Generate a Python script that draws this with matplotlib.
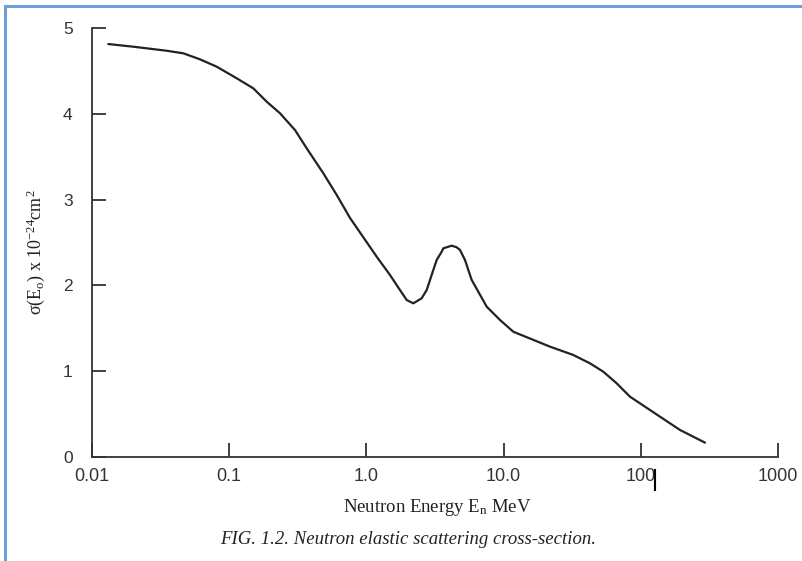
import matplotlib
matplotlib.use("Agg")
import matplotlib.pyplot as plt
from matplotlib.lines import Line2D

plt.rcParams['mathtext.fontset'] = 'custom'
plt.rcParams['mathtext.rm'] = 'Liberation Serif'
plt.rcParams['mathtext.it'] = 'Liberation Serif:italic'

# Data (energy in MeV, cross-section in 1e-24 cm^2)
energy = [0.01315, 0.0200, 0.0350, 0.0463, 0.0612, 0.0811, 0.1134, 0.1498,
          0.1877, 0.2346, 0.3016, 0.3671, 0.4852, 0.6075, 0.7596, 1.189,
          1.486, 1.757, 1.966, 2.197, 2.529, 2.751, 2.908, 3.073, 3.253,
          3.539, 3.635, 4.184, 4.551, 4.811, 5.232, 5.383, 5.531, 5.856,
          7.53, 9.415, 11.77, 21.79, 32.2, 42.6, 53.3, 66.7, 83.4, 138.0,
          193.1, 293.8]
sigma = [4.813, 4.782, 4.735, 4.705, 4.635, 4.549, 4.414, 4.297,
         4.141, 4.006, 3.811, 3.598, 3.307, 3.054, 2.786, 2.334,
         2.121, 1.946, 1.830, 1.791, 1.850, 1.946, 2.063, 2.179, 2.296,
         2.393, 2.432, 2.463, 2.444, 2.413, 2.296, 2.238, 2.179, 2.063,
         1.752, 1.597, 1.460, 1.286, 1.189, 1.092, 0.994, 0.859, 0.703, 0.470,
         0.315, 0.167]

xticks = [0.01, 0.1, 1.0, 10.0, 100, 1000]
xticklabels = ['0.01', '0.1', '1.0', '10.0', '100', '1000']
yticks = [0, 1, 2, 3, 4, 5]
yticklabels = ['0', '1', '2', '3', '4', '5']

fig = plt.figure(figsize=(8.03, 5.61), dpi=100)
ax = fig.add_axes([92/803, 1 - 457/561, (778 - 92)/803, (457 - 28)/561])

ax.plot(energy, sigma, color='#222222', lw=1.6, solid_capstyle='round',
        solid_joinstyle='round')

ax.set_xscale('log')
ax.set_xlim(0.01, 1000)
ax.set_ylim(0, 5)
ax.set_xticks(xticks)
ax.set_xticklabels(xticklabels)
ax.minorticks_off()
ax.set_yticks(yticks)
ax.set_yticklabels(yticklabels)

for s in ['top', 'right']:
    ax.spines[s].set_visible(False)
for s in ['left', 'bottom']:
    ax.spines[s].set_color('#333333')
    ax.spines[s].set_linewidth(1.3)

ax.tick_params(axis='x', direction='in', length=10, width=1.3, color='#333333',
               pad=8, labelsize=13, labelcolor='#333333')
ax.tick_params(axis='y', direction='in', length=10, width=1.3, color='#333333',
               pad=14, labelsize=12.5, labelcolor='#333333')
for lab in ax.get_xticklabels() + ax.get_yticklabels():
    lab.set_family('Liberation Sans')

fig.text(437/803, 1 - 507/561, 'Neutron Energy E$_{\\rm n}$ MeV',
         family='Liberation Serif', fontsize=13.5, ha='center', va='center',
         color='#222222')
fig.text(36/803, 1 - 252/561, '\u03c3(E$_{\\rm o}$) x 10$^{-24}$cm$^{2}$',
         family='Liberation Serif', fontsize=13, ha='center', va='center',
         rotation=90, color='#222222')
fig.text(408/803, 1 - 540/561, 'FIG. 1.2. Neutron elastic scattering cross-section.',
         family='Liberation Serif', style='italic', fontsize=13.5,
         ha='center', va='center', color='#222222')

# blue frame (top and left edges)
frame_color = '#6f9fd8'
fig.add_artist(Line2D([5/803, 1.0], [1 - 6/561, 1 - 6/561], transform=fig.transFigure,
                      color=frame_color, lw=2.2))
fig.add_artist(Line2D([5/803, 5/803], [0, 1 - 6/561], transform=fig.transFigure,
                      color=frame_color, lw=2.2))
# stray text cursor near the "100" label
fig.add_artist(Line2D([655/803, 655/803], [1 - 470/561, 1 - 490/561],
                      transform=fig.transFigure, color='black', lw=1.5))

fig.savefig('out.png', dpi=100)
